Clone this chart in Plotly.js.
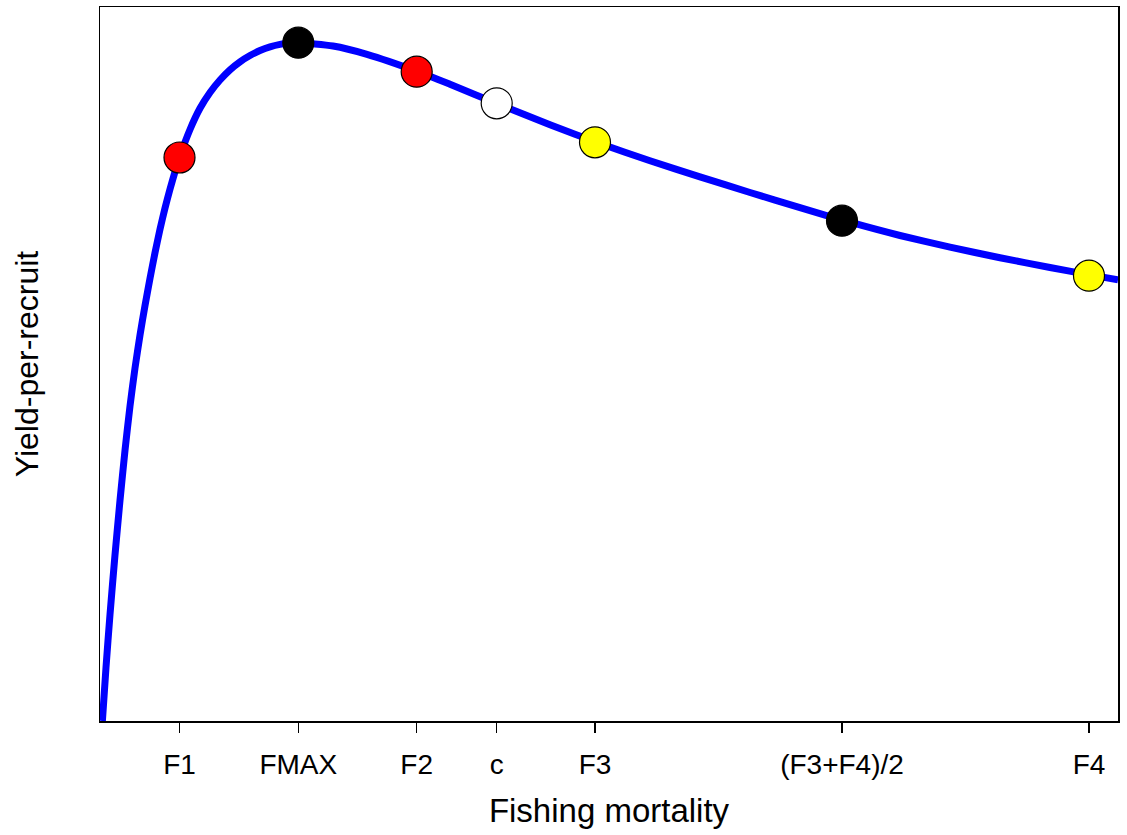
<!DOCTYPE html>
<html>
<head>
<meta charset="utf-8">
<script src="https://cdn.plot.ly/plotly-3.0.1.min.js"></script>
<style>html,body{margin:0;padding:0;background:#fff;}#chart{width:1127px;height:835px;}</style>
</head>
<body>
<div id="chart"></div>
<script>
// Yield-per-recruit curve
const curveF = [0.0024, 0.006, 0.010, 0.015, 0.020, 0.025, 0.030, 0.035, 0.040, 0.045, 0.050, 0.055, 0.060, 0.065, 0.070, 0.075, 0.080, 0.090, 0.100, 0.110, 0.120, 0.130, 0.140, 0.150, 0.160, 0.170, 0.180, 0.190, 0.1983, 0.233, 0.267, 0.317, 0.350, 0.400, 0.450, 0.500, 0.550, 0.600, 0.650, 0.700, 0.750, 0.800, 0.850, 0.900, 0.950, 0.990, 1.018];
const curveY = [0, 5.36, 10.66, 16.61, 22.06, 27.06, 31.49, 35.29, 38.59, 41.54, 44.27, 46.82, 49.17, 51.29, 53.19, 54.92, 56.49, 59.15, 61.27, 62.85, 64.10, 65.12, 65.92, 66.55, 67.05, 67.42, 67.66, 67.79, 67.83, 67.50, 66.67, 64.97, 63.67, 61.62, 59.62, 57.75, 56.02, 54.42, 52.85, 51.33, 49.88, 48.55, 47.38, 46.33, 45.35, 44.61, 44.12];

// Reference points
const pointLabels = ["F1", "FMAX", "F2", "c", "F3", "(F3+F4)/2", "F4"];
const pointF = [0.0795, 0.1983, 0.3167, 0.3967, 0.495, 0.742, 0.989];
const pointY = [56.35, 67.83, 64.93, 61.77, 57.87, 50.03, 44.53];
const pointColors = ["#ff0000", "#000000", "#ff0000", "#ffffff", "#ffff00", "#000000", "#ffff00"];

const traces = [
  {
    x: curveF, y: curveY, type: "scatter", mode: "lines",
    line: {color: "#0000ff", width: 7, shape: "spline", smoothing: 0.6},
    hoverinfo: "skip", showlegend: false
  },
  {
    x: pointF, y: pointY, type: "scatter", mode: "markers",
    text: pointLabels,
    marker: {size: 31, color: pointColors, line: {color: "#000000", width: 1.2}},
    cliponaxis: false, showlegend: false
  }
];

const layout = {
  width: 1127, height: 835,
  margin: {l: 100, r: 9, t: 7, b: 114},
  paper_bgcolor: "#ffffff", plot_bgcolor: "#ffffff",
  font: {family: "Liberation Sans, Arial, sans-serif", color: "#000000"},
  showlegend: false,
  xaxis: {
    range: [0, 1.018], fixedrange: true,
    tickmode: "array", tickvals: pointF, ticktext: pointLabels,
    ticks: "outside", ticklen: 10, tickwidth: 1.2, tickcolor: "#000000",
    ticklabelstandoff: 8,
    tickfont: {size: 28, color: "#000000"},
    showgrid: false, zeroline: false,
    showline: true, linecolor: "#000000", linewidth: 1.5, mirror: true,
    title: {text: "Fishing mortality", font: {size: 33, color: "#000000"}, standoff: 20}
  },
  yaxis: {
    range: [0, 71.4], fixedrange: true,
    showticklabels: false, ticks: "",
    showgrid: false, zeroline: false,
    showline: true, linecolor: "#000000", linewidth: 1.5, mirror: true,
    title: {text: "Yield-per-recruit", font: {size: 32, color: "#000000"}, standoff: 50}
  }
};

Plotly.newPlot("chart", traces, layout, {displayModeBar: false, staticPlot: true});
</script>
</body>
</html>
